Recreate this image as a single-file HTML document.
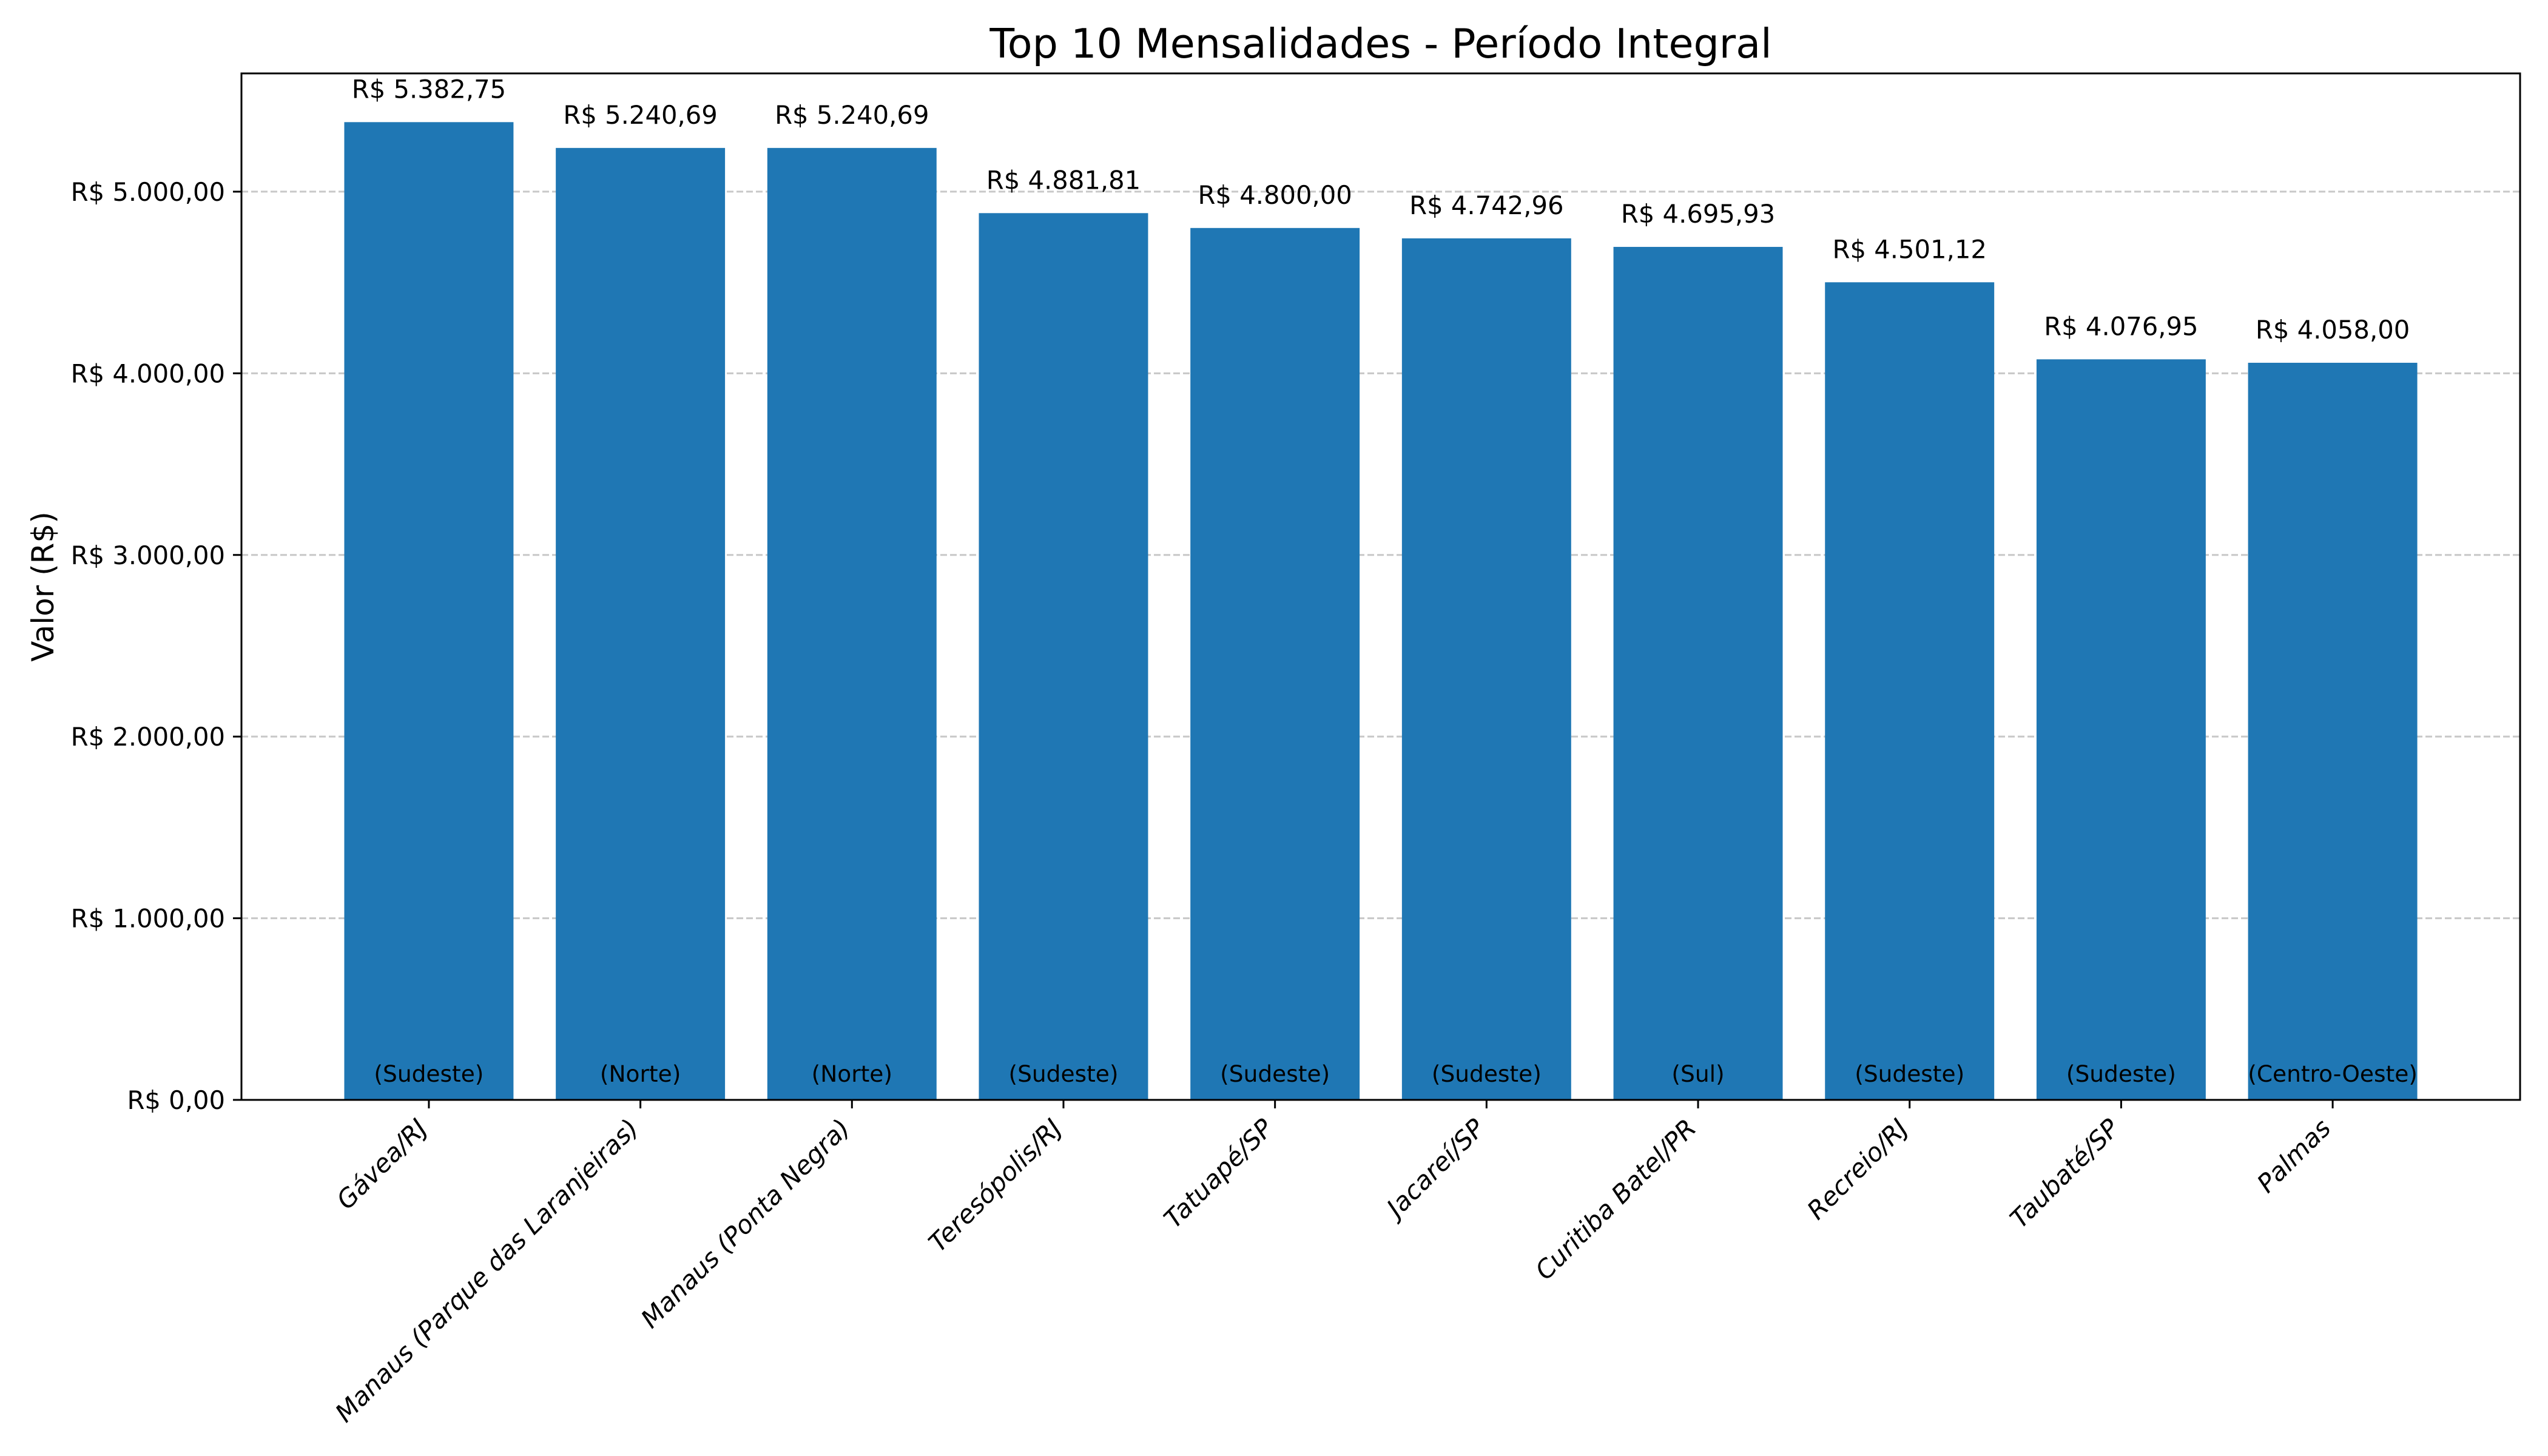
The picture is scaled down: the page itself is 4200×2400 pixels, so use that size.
<!DOCTYPE html>
<html><head><meta charset="utf-8"><style>
html,body{margin:0;padding:0;background:#fff;}
svg{display:block;font-family:"DejaVu Sans","Liberation Sans",sans-serif;}
</style></head><body>
<svg id="chart" width="4200" height="2400" viewBox="0 0 4200 2400" xmlns="http://www.w3.org/2000/svg">
<rect width="4200" height="2400" fill="#fff"/>
<text x="2276" y="95" font-size="66.7" text-anchor="middle">Top 10 Mensalidades - Período Integral</text>
<text transform="translate(88,967) rotate(-90)" font-size="50" text-anchor="middle">Valor (R$)</text>
<g id="grid"></g><g id="bars"></g><g id="labels"></g><g id="axes"></g>
</svg>
<script>
const categories = ["Gávea/RJ","Manaus (Parque das Laranjeiras)","Manaus (Ponta Negra)","Teresópolis/RJ","Tatuapé/SP","Jacareí/SP","Curitiba Batel/PR","Recreio/RJ","Taubaté/SP","Palmas"];
const regions = ["Sudeste","Norte","Norte","Sudeste","Sudeste","Sudeste","Sul","Sudeste","Sudeste","Centro-Oeste"];
const values = [5382.75,5240.69,5240.69,4881.81,4800.00,4742.96,4695.93,4501.12,4076.95,4058.00];
const yTicks = [0,1000,2000,3000,4000,5000];

const NS="http://www.w3.org/2000/svg";
const L=398,R=4154,T=121,B=1813;
const n=categories.length;
const xMin=-0.886,xMax=n-1+0.886;
const yMax=5651;
const xs=i=>L+(i-xMin)/(xMax-xMin)*(R-L);
const ys=v=>B-v/yMax*(B-T);
const step=(R-L)/(xMax-xMin);
function fmt(v){const p=v.toFixed(2).split('.');return 'R$ '+p[0].replace(/\B(?=(\d{3})+(?!\d))/g,'.')+','+p[1];}
function mk(tag,attrs,parent,text){const e=document.createElementNS(NS,tag);for(const k in attrs)e.setAttribute(k,attrs[k]);if(text!==undefined)e.textContent=text;parent.appendChild(e);return e;}
const grid=document.getElementById('grid'),bars=document.getElementById('bars'),labels=document.getElementById('labels'),axes=document.getElementById('axes');
yTicks.forEach(t=>{
  const y=ys(t);
  if(t>0){const g=mk('line',{x1:L,x2:R,y1:y,y2:y,stroke:'#c8c8c8','stroke-width':3,'stroke-dasharray':'11,5'},grid);
  
  }
  const tk=mk('line',{x1:L-14,x2:L,y1:y,y2:y,stroke:'#000','stroke-width':3},axes);
  
  
  const tl=mk('text',{x:L-27,y:y+15,'font-size':41.7,'text-anchor':'end'},axes,fmt(t));
  
  
});
values.forEach((v,i)=>{
  const cx=xs(i),w=step*0.8;
  const b=mk('rect',{x:cx-w/2,y:ys(v),width:w,height:B-ys(v),fill:'#1f77b4'},bars);
  
  
  const vl=mk('text',{x:cx,y:ys(v)-40,'font-size':41.7,'text-anchor':'middle'},labels,fmt(v));
  
  
  const rl=mk('text',{x:cx,y:1783,'font-size':37.5,'text-anchor':'middle'},labels,'('+regions[i]+')');
  
  
  const tk=mk('line',{x1:cx,x2:cx,y1:B,y2:B+14,stroke:'#000','stroke-width':3},axes);
  
  
  const xl=mk('text',{transform:'translate('+(cx-22)+','+(B+28)+') rotate(-45)','font-size':41.7,'font-style':'italic','text-anchor':'end',dy:'0.72em'},axes,categories[i]);
  
  
});
const frame=mk('rect',{x:L,y:T,width:R-L,height:B-T,fill:'none',stroke:'#000','stroke-width':3},axes);


</script>
</body></html>
